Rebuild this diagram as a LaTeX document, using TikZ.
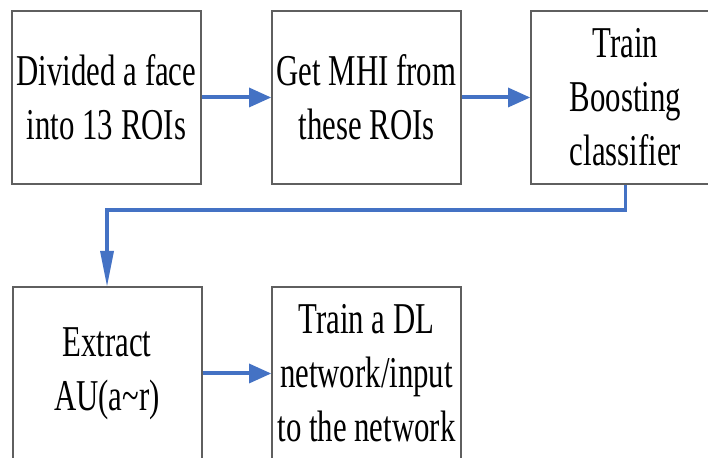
\documentclass[tikz,border=0pt]{standalone}
\usepackage{fontspec}
\newfontfamily\stepfont{Liberation Serif}[FakeStretch=0.70]
\usepackage{tikz}
\usetikzlibrary{arrows.meta}

\definecolor{flowblue}{RGB}{68,114,196}
\definecolor{boxgray}{RGB}{95,95,95}

\tikzset{
 stepbox/.style={draw=boxgray,line width=2pt,minimum width=189pt,minimum height=173pt,
   inner sep=0pt,align=center,font=\stepfont\fontsize{44}{54}\selectfont},
 flow/.style={draw=flowblue,line width=4pt,-{Triangle[length=22pt,width=20pt,line width=0pt]}},
 drop/.style={draw=flowblue,line width=3.5pt,-{Triangle[length=35pt,width=14pt,line width=0pt]}}
}

\begin{document}
\begin{tikzpicture}[x=1pt,y=1pt]
\useasboundingbox (0,0) rectangle (708,457);
\clip (0,0) rectangle (708,457);
\fill[white] (0,0) rectangle (708,457);

\node[stepbox] (divide) at (106.5,359.5) {Divided a face\\into 13 ROIs};
\node[stepbox] (mhi) at (366.5,359.5) {Get MHI from\\these ROIs};
\node[stepbox] (boost) at (625.5,359.5) {Train\\Boosting\\classifier};

\node[stepbox] (extract) at (107,83.5) {Extract\\AU(a\textasciitilde r)};
\node[stepbox] (dl) at (366.5,83.5) {Train a DL\\network/input\\to the network};

\draw[flow] (divide) -- (mhi);
\draw[flow] (mhi) -- (boost);
\draw[flow] (extract) -- (dl);

% back to the second row
\coordinate (turn) at (625.5,247);
\draw[drop] (boost.south) -- (turn) -| (extract.north);

\end{tikzpicture}
\end{document}
